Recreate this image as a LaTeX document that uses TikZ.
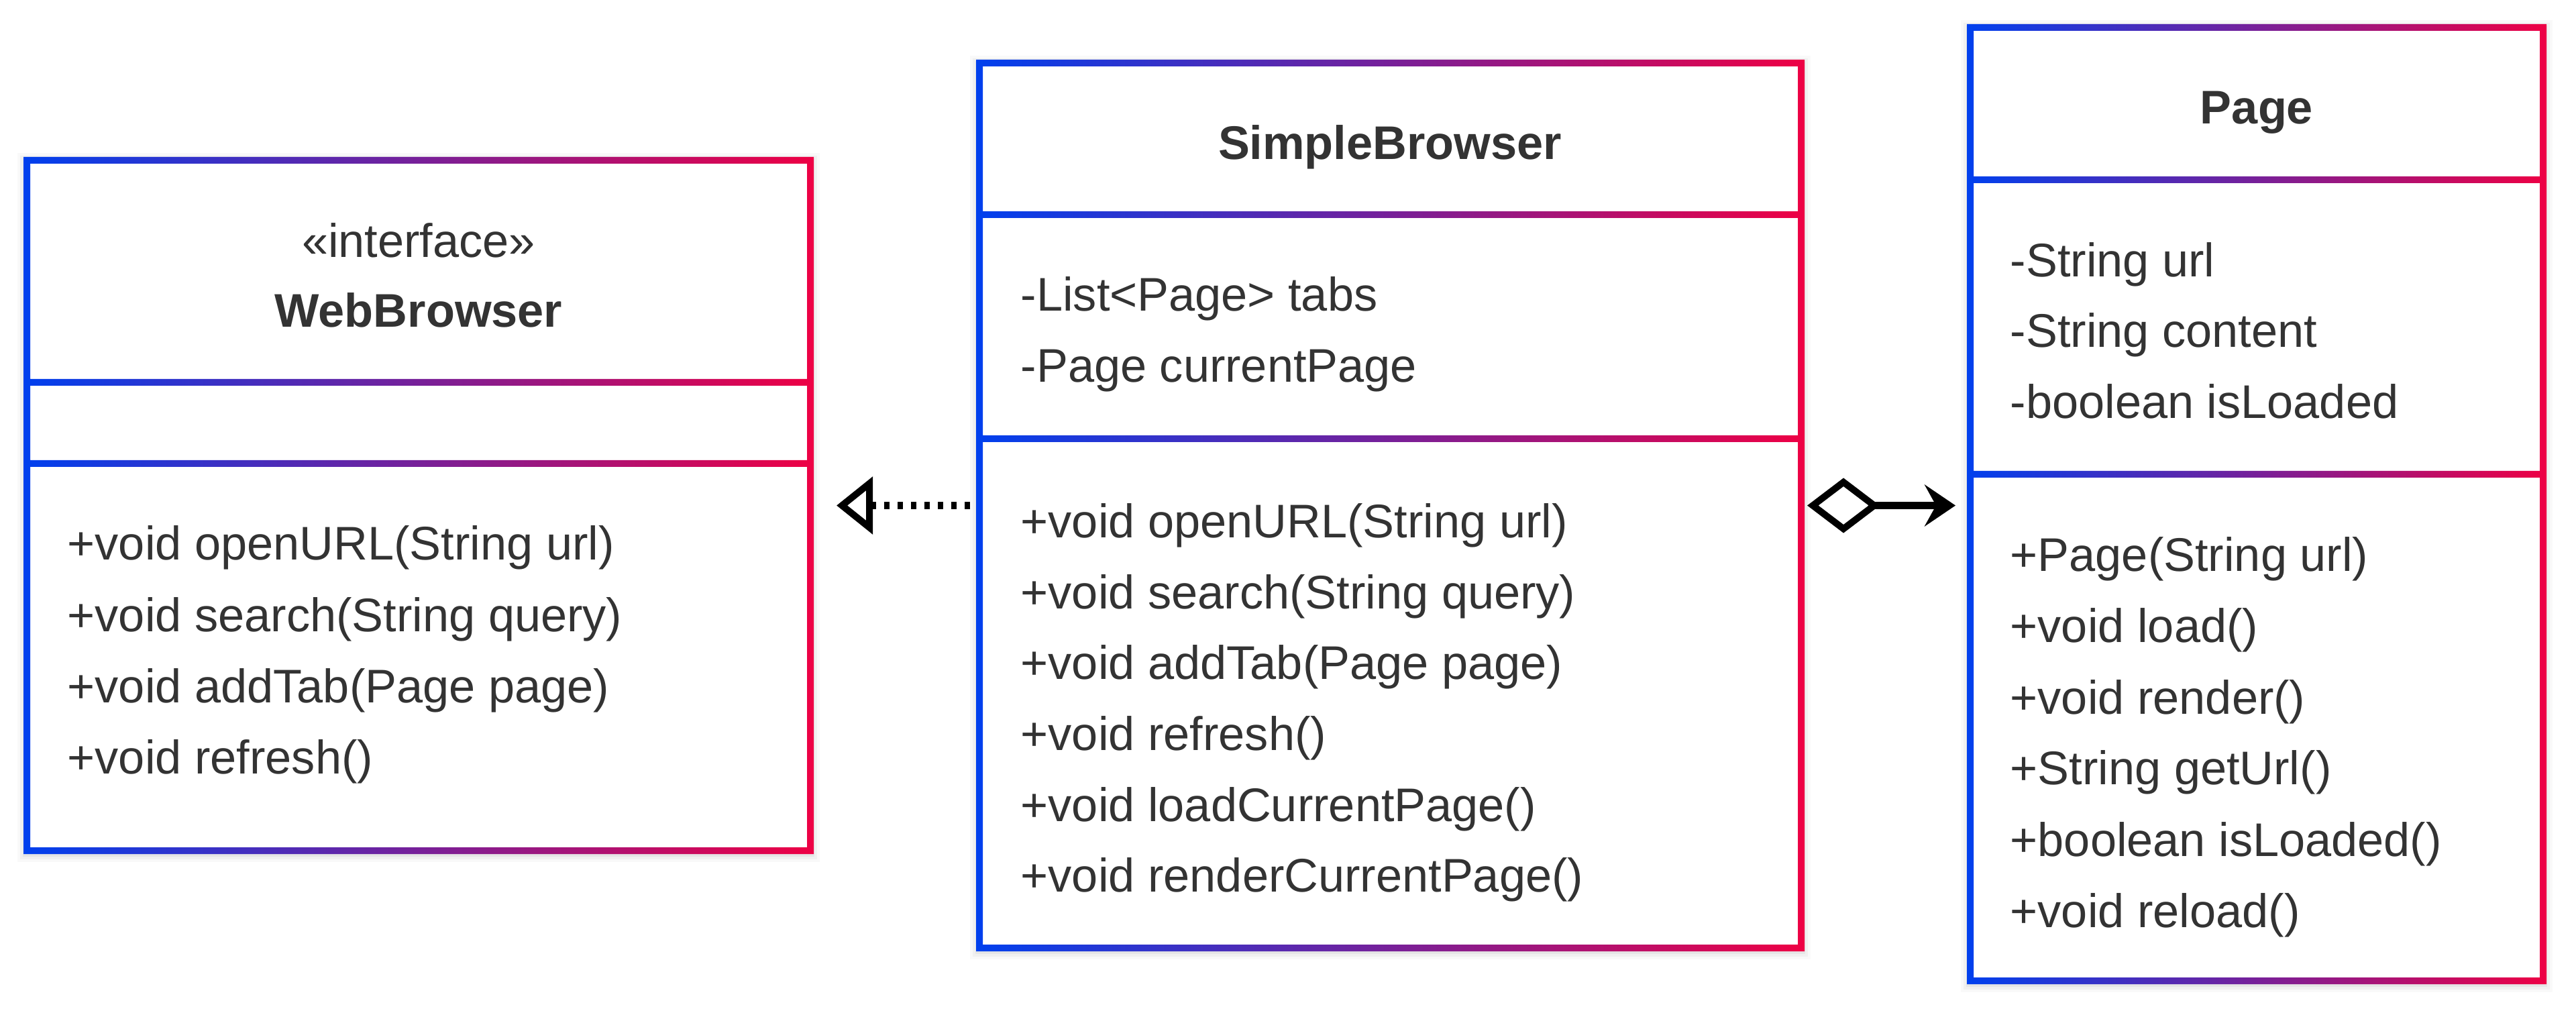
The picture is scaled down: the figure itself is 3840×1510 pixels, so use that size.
\documentclass[tikz,border=0pt]{standalone}
\usepackage{fontspec}
\setmainfont{Liberation Sans}
\usetikzlibrary{arrows.meta,fit}
\definecolor{ublue}{RGB}{0,64,238}
\definecolor{ured}{RGB}{238,0,68}
\definecolor{txt}{RGB}{51,51,51}
\newcommand\umlframe[7]{% name L T R B d1 d2
  \foreach \s/\o in {14/0.025,10/0.035,6/0.045}{\fill[black,opacity=\o] ({#2-\s},{#3-\s+3}) rectangle ({#4+\s},{#5+\s+3});}
  \fill[white] (#2,#3) rectangle (#4,#5);
  \shade[left color=ublue,right color=ured,even odd rule]
    ({#2-5},{#3-5}) rectangle ({#4+5},{#5+5})
    ({#2+5},{#3+5}) rectangle ({#4-5},{#6-5})
    ({#2+5},{#6+5}) rectangle ({#4-5},{#7-5})
    ({#2+5},{#7+5}) rectangle ({#4-5},{#5-5});
  \node[fit={(#2,#3) (#4,#5)},inner sep=0pt,outer sep=0pt] (#1) {};
}
\tikzset{
  mem/.style={anchor=base west,inner sep=0pt,text=txt,font=\fontsize{20}{24}\selectfont},
  ttl/.style={anchor=base,inner sep=0pt,text=txt,font=\fontsize{20}{24}\selectfont\bfseries},
  ster/.style={anchor=base,inner sep=0pt,text=txt,font=\fontsize{20}{24}\selectfont},
  realize/.style={line width=0.1cm,dash pattern=on 0.08cm off 0.12cm,
    -{Triangle[open,length=0.54cm,width=0.84cm,line width=0.1cm]},
    shorten <=0.14cm,shorten >=0.39cm},
  aggr/.style={line width=0.1cm,
    {Diamond[open,length=1.08cm,width=0.82cm]}-{Stealth[length=0.46cm,width=0.62cm,inset=0.17cm]},
    shorten <=0.09cm,shorten >=0.22cm},
}
\begin{document}
\begin{tikzpicture}[x=0.01cm,y=-0.01cm]
\useasboundingbox (0,0) rectangle (3840,1510);
\fill[white] (0,0) rectangle (3840,1510);
% boxes
\umlframe{wb}{40}{239}{1208}{1268}{570}{691}
\umlframe{sb}{1460}{94}{2685}{1413}{320}{654}
\umlframe{pg}{2937}{41}{3791}{1462}{268}{707}
% WebBrowser
\node[ster] (wbst) at (624,384) {«interface»};
\node[ttl] (wbt) at (624,488) {WebBrowser};
\node[mem] (wbm1) at (100,835) {+void openURL(String url)};
\node[mem] (wbm2) at (100,941) {+void search(String query)};
\node[mem] (wbm3) at (100,1047) {+void addTab(Page page)};
\node[mem] (wbm4) at (100,1153) {+void refresh()};
% SimpleBrowser
\node[ttl] (sbt) at (2072,238) {SimpleBrowser};
\node[mem] (sba1) at (1521,464) {-List<Page> tabs};
\node[mem] (sba2) at (1521,570) {-Page currentPage};
\node[mem] (sbm1) at (1521,801) {+void openURL(String url)};
\node[mem] (sbm2) at (1521,907) {+void search(String query)};
\node[mem] (sbm3) at (1521,1012) {+void addTab(Page page)};
\node[mem] (sbm4) at (1521,1118) {+void refresh()};
\node[mem] (sbm5) at (1521,1224) {+void loadCurrentPage()};
\node[mem] (sbm6) at (1521,1329) {+void renderCurrentPage()};
% Page
\node[ttl] (pgt) at (3364,185) {Page};
\node[mem] (pga1) at (2996,413) {-String url};
\node[mem] (pga2) at (2996,518) {-String content};
\node[mem] (pga3) at (2996,624) {-boolean isLoaded};
\node[mem] (pgm1) at (2996,852) {+Page(String url)};
\node[mem] (pgm2) at (2996,957) {+void load()};
\node[mem] (pgm3) at (2996,1064) {+void render()};
\node[mem] (pgm4) at (2996,1169) {+String getUrl()};
\node[mem] (pgm5) at (2996,1276) {+boolean isLoaded()};
\node[mem] (pgm6) at (2996,1382) {+void reload()};
% connectors
\draw[realize] (sb.west) -- (wb.east);
\draw[aggr] (sb.east) -- (sb.east -| pg.west);
\end{tikzpicture}
\end{document}
